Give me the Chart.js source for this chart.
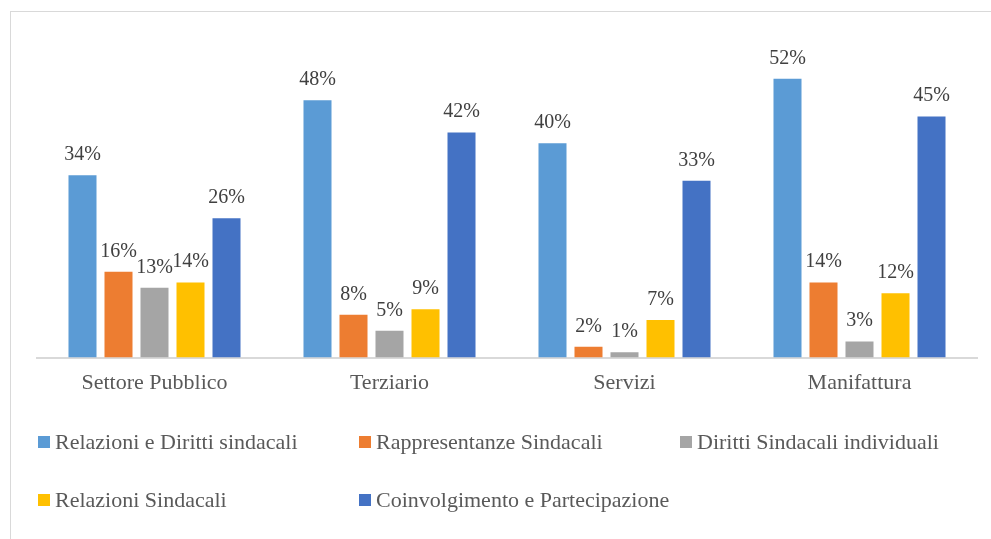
<!DOCTYPE html>
<html>
<head>
<meta charset="utf-8">
<script src="https://cdn.jsdelivr.net/npm/chart.js@4"></script>
<style>
  html, body { margin: 0; padding: 0; background: #ffffff; overflow: hidden; }
  #frame { position: absolute; left: 10px; top: 11px; width: 1200px; height: 800px; border: 1px solid #d9d9d9; box-sizing: border-box; }
  #wrap { position: absolute; left: 0; top: 0; width: 991px; height: 539px; }
</style>
</head>
<body>
<div id="frame"></div>
<div id="wrap"><canvas id="c" width="991" height="539"></canvas></div>
<script>
const categories = ["Settore Pubblico", "Terziario", "Servizi", "Manifattura"];
const seriesNames = [
  "Relazioni e Diritti sindacali",
  "Rappresentanze Sindacali",
  "Diritti Sindacali individuali",
  "Relazioni Sindacali",
  "Coinvolgimento e Partecipazione"
];
const relazioniDiritti = [34, 48, 40, 52];
const rappresentanze = [16, 8, 2, 14];
const dirittiIndividuali = [13, 5, 1, 3];
const relazioniSindacali = [14, 9, 7, 12];
const coinvolgimento = [26, 42, 33, 45];
const colors = ["#5B9BD5", "#ED7D31", "#A5A5A5", "#FFC000", "#4472C4"];

const FONT = "'Liberation Serif', 'Times New Roman', serif";
const seriesValues = [relazioniDiritti, rappresentanze, dirittiIndividuali, relazioniSindacali, coinvolgimento];

const dataLabels = {
  id: 'dataLabels',
  afterDatasetsDraw(chart) {
    const ctx = chart.ctx;
    ctx.save();
    ctx.font = "20px " + FONT;
    ctx.fillStyle = "#404040";
    ctx.textAlign = "center";
    ctx.textBaseline = "alphabetic";
    chart.data.datasets.forEach((ds, di) => {
      const meta = chart.getDatasetMeta(di);
      meta.data.forEach((bar, i) => {
        ctx.fillText(ds.data[i] + "%", bar.x, bar.y - 15);
      });
    });
    ctx.restore();
  }
};

const gridLegend = {
  id: 'gridLegend',
  afterDraw(chart) {
    const ctx = chart.ctx;
    const colX = [38, 359, 680];
    const rowY = [442, 500];
    ctx.save();
    ctx.font = "22px " + FONT;
    ctx.textBaseline = "middle";
    ctx.textAlign = "left";
    chart.data.datasets.forEach((ds, i) => {
      const x = colX[i % 3];
      const y = rowY[Math.floor(i / 3)];
      ctx.fillStyle = ds.backgroundColor;
      ctx.fillRect(x, y - 6, 12, 12);
      ctx.fillStyle = "#595959";
      ctx.fillText(ds.label, x + 17, y + 1);
    });
    ctx.restore();
  }
};

new Chart(document.getElementById('c'), {
  type: 'bar',
  data: {
    labels: categories,
    datasets: seriesNames.map((name, i) => ({
      label: name,
      data: seriesValues[i],
      backgroundColor: colors[i],
      borderWidth: 0,
      categoryPercentage: 0.766,
      barPercentage: 0.778
    }))
  },
  options: {
    responsive: false,
    animation: false,
    layout: { padding: { left: 37, right: 14, top: 36, bottom: 0 } },
    plugins: {
      legend: { display: false },
      tooltip: { enabled: false }
    },
    scales: {
      x: {
        grid: { display: false, drawTicks: false },
        border: { display: true, color: '#d9d9d9', width: 2 },
        ticks: { color: '#595959', font: { family: FONT, size: 22 }, padding: 13 },
        afterFit(scale) { scale.height = 539 - 357.5; }
      },
      y: {
        display: false,
        min: 0,
        max: 60
      }
    }
  },
  plugins: [dataLabels, gridLegend]
});
</script>
</body>
</html>
